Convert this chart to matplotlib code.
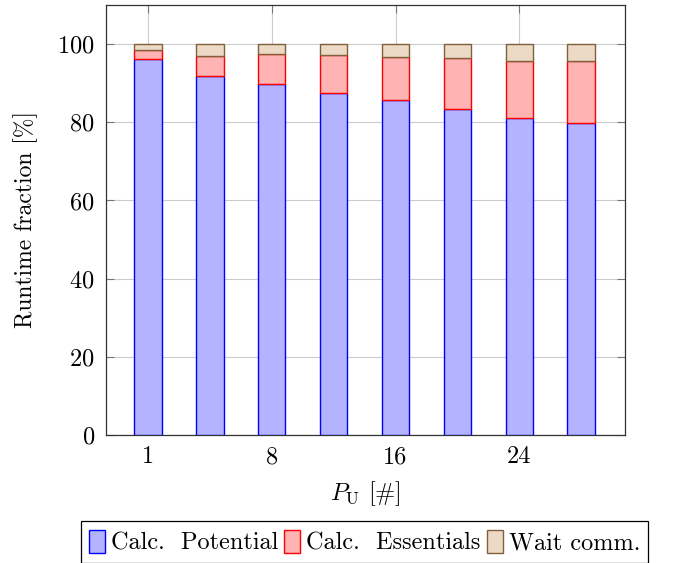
import numpy as np
import matplotlib
matplotlib.use("Agg")
import matplotlib.pyplot as plt

plt.rcParams["font.family"] = "serif"
plt.rcParams["font.serif"] = ["cmr10", "DejaVu Serif"]
plt.rcParams["mathtext.fontset"] = "cm"
plt.rcParams["axes.unicode_minus"] = False
plt.rcParams["axes.formatter.use_mathtext"] = True
plt.rcParams["font.size"] = 17

# runtime breakdown per number of processes (percent)
procs = ["1", "4", "8", "12", "16", "20", "24", "28"]
calc_potential = [96.1, 91.8, 89.8, 87.6, 85.6, 83.5, 81.2, 79.9]
calc_essentials = [2.5, 5.1, 7.6, 9.5, 11.0, 12.9, 14.5, 15.7]
wait_comm = [100 - p - e for p, e in zip(calc_potential, calc_essentials)]
tick_labels = ["1", "8", "16", "24"]

fig = plt.figure(figsize=(6.76, 5.63), dpi=100)
ax = fig.add_axes([106/676, 1-435/563, (625-106)/676, (435-5)/563])

x = np.arange(len(procs))
w = 0.44
bottom2 = np.array(calc_potential)
bottom3 = bottom2 + np.array(calc_essentials)
b1 = ax.bar(x, calc_potential, w, color="#b3b3ff", edgecolor="blue", lw=1.0,
            label="Calc.  Potential", zorder=3)
b2 = ax.bar(x, calc_essentials, w, bottom=bottom2, color="#ffb3b3",
            edgecolor="red", lw=1.0, label="Calc.  Essentials", zorder=3)
b3 = ax.bar(x, wait_comm, w, bottom=bottom3, color="#ecd9c6",
            edgecolor="#80603a", lw=1.0, label="Wait comm.", zorder=3)

ax.set_xlim(-0.68, 7.71)
ax.set_ylim(0, 110)
ax.set_xticks(x[::2])
ax.set_xticklabels(tick_labels)
ax.set_yticks([0, 20, 40, 60, 80, 100])
ax.grid(True, color="#cccccc", lw=0.8, zorder=0)
ax.tick_params(direction="in", top=True, right=True, length=6,
               color="#777777", width=0.8, labelsize=17.5, pad=8)
for s in ax.spines.values():
    s.set_color("#333333")
    s.set_linewidth(0.9)

ax.set_ylabel("Runtime fraction [%]", fontsize=17, labelpad=14)
ax.set_xlabel(r"$P_{\mathrm{U}}$ [#]", fontsize=17.5, labelpad=8)

leg = fig.legend(handles=[b1, b2, b3], loc="upper center", ncol=3,
                 bbox_to_anchor=(364.5/676, 1-521/563), fontsize=17.5,
                 fancybox=False, edgecolor="black", framealpha=1,
                 handlelength=0.65, handleheight=1.1, handletextpad=0.25,
                 columnspacing=0.25, borderpad=0.35, borderaxespad=0)
leg.get_frame().set_linewidth(0.9)

fig.savefig("out.png", dpi=100)
